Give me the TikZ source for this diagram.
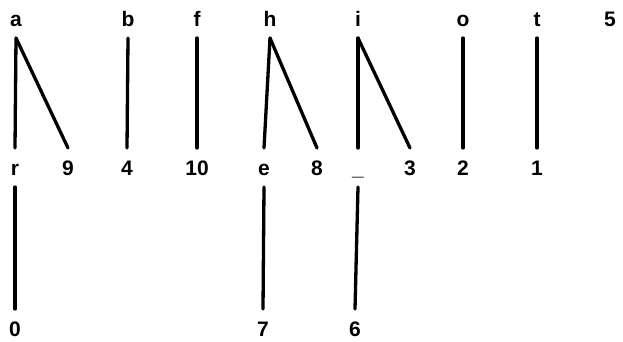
\documentclass[tikz,border=0pt]{standalone}
\usepackage{fontspec}
\setmainfont{Liberation Sans}

\begin{document}
\begin{tikzpicture}[x=1pt, y=-1pt,
    lbl/.style={anchor=base, inner sep=0pt, outer ysep=12pt, text height=15pt, text depth=0pt, font=\fontsize{21}{21}\selectfont\bfseries},
    edge/.style={line width=3.3pt, line cap=round}]
    \useasboundingbox (0, 0) rectangle (623, 341);
    \node[lbl] (a) at (16, 26) {a};
    \node[lbl] (b) at (128, 26) {b};
    \node[lbl] (f) at (197, 26) {f};
    \node[lbl] (h) at (270, 26) {h};
    \node[lbl] (i) at (358, 26) {i};
    \node[lbl] (o) at (463, 26) {o};
    \node[lbl] (t) at (537, 26) {t};
    \node[lbl] (n5) at (610, 26) {5};

    \node[lbl] (r) at (15, 175) {r};
    \node[lbl] (n9) at (68, 175) {9};
    \node[lbl] (n4) at (127, 175) {4};
    \node[lbl] (n10) at (197, 175) {10};
    \node[lbl] (e) at (264, 175) {e};
    \node[lbl] (n8) at (317, 175) {8};
    \node[lbl] (u) at (358, 175) {\_};
    \node[lbl] (n3) at (410, 175) {3};
    \node[lbl] (n2) at (463, 175) {2};
    \node[lbl] (n1) at (537, 175) {1};

    \node[lbl] (n0) at (15, 336) {0};
    \node[lbl] (n7) at (263, 336) {7};
    \node[lbl] (n6) at (355, 336) {6};

    \draw[edge] (a.south) -- (r.north);
    \draw[edge] (a.south) -- (n9.north);
    \draw[edge] (b.south) -- (n4.north);
    \draw[edge] (f.south) -- (n10.north);
    \draw[edge] (h.south) -- (e.north);
    \draw[edge] (h.south) -- (n8.north);
    \draw[edge] (i.south) -- (u.north);
    \draw[edge] (i.south) -- (n3.north);
    \draw[edge] (o.south) -- (n2.north);
    \draw[edge] (t.south) -- (n1.north);
    \draw[edge] (r.south) -- (n0.north);
    \draw[edge] (e.south) -- (n7.north);
    \draw[edge] (u.south) -- (n6.north);
\end{tikzpicture}
\end{document}
